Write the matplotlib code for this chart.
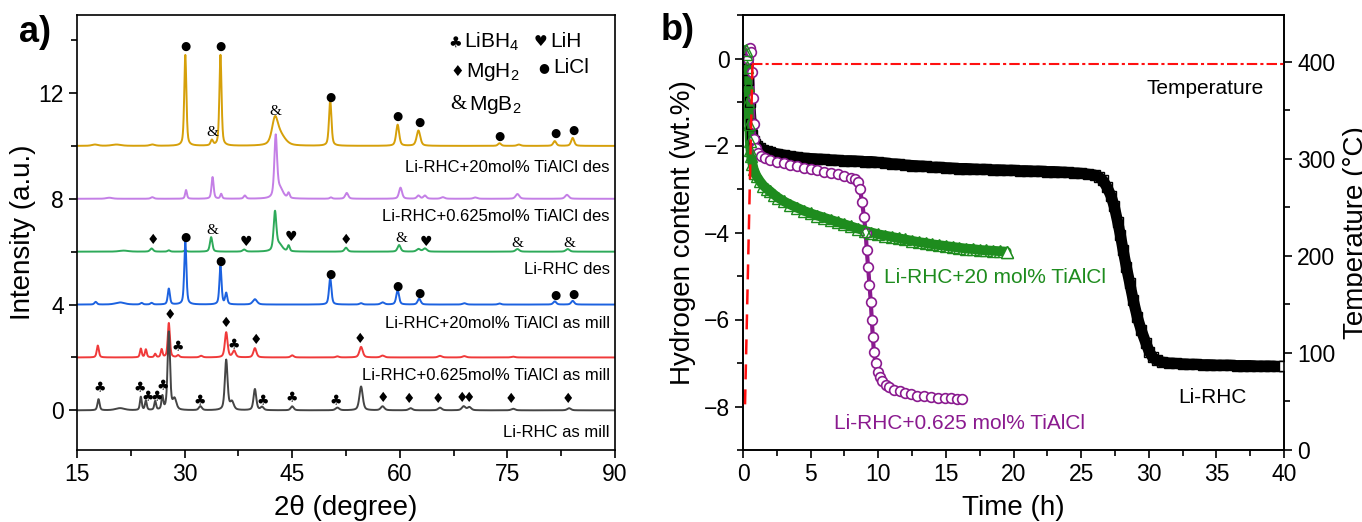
import numpy as np
import matplotlib
matplotlib.use("Agg")
import matplotlib.pyplot as plt
from matplotlib.ticker import MultipleLocator

plt.rcParams['font.family'] = ['Liberation Sans', 'DejaVu Sans']
plt.rcParams['mathtext.fontset'] = 'custom'
plt.rcParams['mathtext.rm'] = 'Liberation Sans'
plt.rcParams['mathtext.it'] = 'Liberation Sans:italic'

# ---------------- Panel a data: XRD peaks (position, height, FWHM) ----------------
xrd_names = ["Li-RHC+20mol% TiAlCl des", "Li-RHC+0.625mol% TiAlCl des", "Li-RHC des",
             "Li-RHC+20mol% TiAlCl as mill", "Li-RHC+0.625mol% TiAlCl as mill", "Li-RHC as mill"]
xrd_offsets = [10, 8, 6, 4, 2, 0]
xrd_colors = ["#D6A00A", "#C47FE6", "#2EAA5A", "#1C62E0", "#F03A3A", "#454545"]
xrd_label_y = [9.2, 7.34, 5.33, 3.3, 1.33, -0.82]

gold_pos = [17.5, 20.5, 25.5, 30.1, 33.8, 35.0, 42.6, 43.4, 50.3, 59.7, 62.6, 73.9, 76.6, 81.6, 84.1]
gold_h = [0.05, 0.05, 0.05, 3.44, 0.2, 3.44, 0.95, 0.35, 1.73, 0.8, 0.58, 0.1, 0.05, 0.18, 0.3]
gold_w = [1.0, 1.5, 0.8, 0.35, 0.4, 0.35, 1.0, 1.6, 0.4, 0.5, 0.6, 0.5, 0.6, 0.5, 0.5]

purple_pos = [19.5, 25.5, 30.2, 33.9, 35.1, 38.4, 42.7, 43.3, 44.5, 50.4, 52.6, 60.1, 62.6, 63.5, 66.0, 70.5, 76.4, 83.3]
purple_h = [0.04, 0.06, 0.33, 0.82, 0.18, 0.12, 2.3, 0.35, 0.2, 0.05, 0.22, 0.42, 0.12, 0.12, 0.06, 0.05, 0.18, 0.15]
purple_w = [1.0, 0.5, 0.3, 0.35, 0.3, 0.4, 0.45, 1.0, 0.35, 0.4, 0.5, 0.5, 0.5, 0.5, 0.6, 0.6, 0.6, 0.6]

green_pos = [21.5, 25.4, 27.8, 30.1, 33.7, 38.3, 42.6, 43.2, 44.5, 52.5, 59.9, 62.6, 63.5, 76.4, 83.4]
green_h = [0.04, 0.12, 0.05, 0.05, 0.55, 0.08, 1.45, 0.25, 0.22, 0.15, 0.25, 0.1, 0.12, 0.1, 0.1]
green_w = [1.5, 0.5, 0.4, 0.4, 0.4, 0.5, 0.45, 1.0, 0.35, 0.5, 0.5, 0.6, 0.6, 0.6, 0.6]

blue_pos = [17.6, 21.0, 24.0, 25.4, 27.8, 30.1, 35.0, 35.8, 39.8, 50.3, 54.6, 57.6, 59.7, 62.7, 69.0, 73.9, 81.6, 84.1]
blue_h = [0.1, 0.08, 0.06, 0.06, 0.6, 2.4, 1.45, 0.42, 0.2, 1.0, 0.05, 0.08, 0.55, 0.22, 0.05, 0.04, 0.12, 0.14]
blue_w = [0.4, 1.5, 0.4, 0.4, 0.35, 0.35, 0.35, 0.35, 0.7, 0.4, 0.5, 0.6, 0.45, 0.5, 0.6, 0.5, 0.5, 0.5]

red_pos = [17.9, 23.9, 24.6, 25.9, 26.8, 27.8, 29.1, 32.3, 35.8, 36.9, 39.8, 45.0, 51.3, 54.6, 57.6, 65.6, 69.0, 75.8]
red_h = [0.45, 0.33, 0.3, 0.13, 0.3, 1.3, 0.08, 0.06, 0.95, 0.25, 0.35, 0.08, 0.04, 0.4, 0.07, 0.06, 0.05, 0.03]
red_w = [0.35, 0.3, 0.3, 0.3, 0.3, 0.35, 0.4, 0.5, 0.45, 0.5, 0.5, 0.5, 0.5, 0.55, 0.6, 0.6, 0.6, 0.6]

gray_pos = [18.0, 21.0, 23.9, 24.6, 25.9, 26.9, 27.8, 28.6, 32.2, 35.8, 36.6, 39.8, 40.8, 45.0, 51.3, 54.6,
            57.6, 61.5, 65.6, 68.9, 69.7, 75.8, 83.6]
gray_h = [0.42, 0.08, 0.5, 0.35, 0.33, 0.5, 2.95, 0.4, 0.15, 1.9, 0.3, 0.8, 0.12, 0.15, 0.1, 0.9,
          0.15, 0.08, 0.1, 0.15, 0.12, 0.06, 0.08]
gray_w = [0.35, 1.5, 0.3, 0.3, 0.3, 0.3, 0.4, 0.6, 0.5, 0.45, 0.6, 0.45, 0.5, 0.5, 0.6, 0.55,
          0.6, 0.6, 0.6, 0.6, 0.6, 0.6, 0.6]

xrd_peaks = [(gold_pos, gold_h, gold_w), (purple_pos, purple_h, purple_w), (green_pos, green_h, green_w),
             (blue_pos, blue_h, blue_w), (red_pos, red_h, red_w), (gray_pos, gray_h, gray_w)]

# phase markers (2theta, intensity)
clubs = [(18.1, 0.85), (23.8, 0.85), (24.8, 0.5), (26.1, 0.5), (27.0, 0.9), (29.1, 2.38), (32.1, 0.33),
         (36.8, 2.45), (40.9, 0.33), (45.0, 0.45), (51.0, 0.36)]
diamonds = [(25.6, 6.45), (52.5, 6.45), (28.0, 3.6), (35.7, 3.3), (39.9, 2.65), (54.5, 2.68), (57.7, 0.45),
            (61.3, 0.42), (65.3, 0.42), (68.7, 0.45), (69.7, 0.45), (75.5, 0.42), (83.5, 0.42)]
hearts = [(38.5, 6.37), (44.8, 6.55), (63.6, 6.35)]
dots = [(30.1, 13.75), (35.0, 13.75), (50.4, 11.85), (59.7, 11.1), (62.7, 10.9), (73.9, 10.35),
        (81.7, 10.48), (84.2, 10.58), (30.1, 6.55), (35.0, 5.65), (50.3, 5.15), (59.7, 4.7),
        (62.7, 4.42), (81.7, 4.35), (84.2, 4.38)]
amps = [(33.8, 10.5), (42.6, 11.3), (33.8, 6.8), (60.2, 6.5), (76.4, 6.3), (83.6, 6.3)]

# ---------------- Panel b data ----------------
rhc_t = [0.3, 0.4, 0.5, 0.6, 0.7, 0.8, 0.9, 1.0, 1.25, 1.5, 1.75, 2.0, 2.5, 3.0, 3.5, 4.0, 4.5, 5.0, 5.5,
         6.0, 6.5, 7.0, 7.5, 8.0, 8.5, 9.0, 9.5, 10.0, 10.5, 11.0, 11.5, 12.0, 12.5, 13.0, 13.5, 14.0,
         14.5, 15.0, 15.5, 16.0, 16.5, 17.0, 17.5, 18.0, 18.5, 19.0, 19.5, 20.0, 20.5, 21.0, 21.5, 22.0,
         22.5, 23.0, 23.5, 24.0, 24.5, 25.0, 25.5, 26.0, 26.3, 26.6, 26.9, 27.2, 27.45, 27.7, 27.9, 28.1,
         28.35, 28.6, 28.85, 29.15, 29.45, 29.8, 30.05, 30.3, 30.6, 31.0, 31.5, 32.0, 32.5, 33.0, 33.5,
         34.0, 34.5, 35.0, 35.5, 36.0, 36.5, 37.0, 37.5, 38.0, 38.5, 39.0, 39.5, 40.0]
rhc_v = [0.0, -0.5, -1.0, -1.5, -1.75, -1.9, -1.97, -2.0, -2.06, -2.1, -2.13, -2.16, -2.19, -2.22, -2.25,
         -2.27, -2.29, -2.3, -2.31, -2.32, -2.33, -2.34, -2.35, -2.35, -2.36, -2.37, -2.37, -2.39, -2.4,
         -2.42, -2.43, -2.45, -2.46, -2.47, -2.48, -2.5, -2.5, -2.51, -2.52, -2.53, -2.53, -2.54, -2.55,
         -2.55, -2.56, -2.56, -2.57, -2.57, -2.58, -2.58, -2.59, -2.59, -2.6, -2.6, -2.61, -2.62, -2.63,
         -2.64, -2.66, -2.68, -2.72, -2.8, -2.95, -3.15, -3.4, -3.75, -4.05, -4.4, -4.8, -5.17, -5.55,
         -5.94, -6.25, -6.55, -6.75, -6.87, -6.94, -6.98, -7.0, -7.01, -7.02, -7.03, -7.03, -7.04, -7.04,
         -7.05, -7.05, -7.05, -7.06, -7.06, -7.06, -7.07, -7.07, -7.07, -7.08, -7.08]

lo_t = [0.35, 0.45, 0.55, 0.62, 0.68, 0.73, 0.78, 0.85, 0.95, 1.1, 1.3, 1.6, 2.0, 2.5, 3.0, 3.5, 4.0, 4.5,
        5.0, 5.5, 6.0, 6.5, 7.0, 7.5, 8.0, 8.3, 8.5, 8.65, 8.8, 8.95, 9.07, 9.15, 9.25, 9.35, 9.45, 9.52,
        9.6, 9.68, 9.8, 9.95, 10.1, 10.3, 10.55, 10.8, 11.2, 11.6, 12.0, 12.4, 12.9, 13.4, 13.9, 14.4,
        14.9, 15.4, 15.8, 16.2]
lo_v = [0.0, 0.2, 0.25, 0.15, -0.3, -0.9, -1.5, -1.85, -2.05, -2.18, -2.25, -2.29, -2.33, -2.37, -2.41,
        -2.45, -2.48, -2.51, -2.54, -2.57, -2.6, -2.63, -2.66, -2.7, -2.74, -2.78, -2.85, -3.0, -3.3,
        -3.65, -4.0, -4.4, -4.8, -5.2, -5.6, -6.0, -6.4, -6.75, -7.0, -7.2, -7.32, -7.42, -7.5, -7.56,
        -7.61, -7.65, -7.69, -7.72, -7.75, -7.77, -7.79, -7.8, -7.81, -7.81, -7.82, -7.82]

hi_t = [0.2, 0.25, 0.3, 0.35, 0.4, 0.45, 0.5, 0.55, 0.6, 0.7, 0.8, 0.9, 1.0, 1.25, 1.5, 1.75, 2.0, 2.3,
        2.6, 3.0, 3.5, 4.0, 4.5, 5.0, 5.5, 6.0, 6.5, 7.0, 7.5, 8.0, 8.5, 9.0, 9.5, 10.0, 10.5, 11.0,
        11.5, 12.0, 12.5, 13.0, 13.5, 14.0, 14.5, 15.0, 15.5, 16.0, 16.5, 17.0, 17.5, 18.0, 18.5, 19.0,
        19.5]
hi_v = [0.2, 0.1, -0.2, -0.6, -1.0, -1.5, -1.9, -2.1, -2.25, -2.42, -2.55, -2.63, -2.7, -2.82, -2.92,
        -2.99, -3.05, -3.13, -3.2, -3.28, -3.36, -3.43, -3.5, -3.56, -3.61, -3.66, -3.71, -3.76, -3.81,
        -3.86, -3.91, -3.96, -4.0, -4.04, -4.07, -4.1, -4.13, -4.16, -4.19, -4.22, -4.24, -4.27, -4.29,
        -4.31, -4.33, -4.35, -4.37, -4.38, -4.4, -4.41, -4.42, -4.43, -4.44]

temp_ramp_t = [0.15, 0.7]
temp_ramp_v = [47, 398]
temp_hold_t = [0.7, 40]
temp_hold_v = [398, 398]

# ---------------- Figure ----------------
W, H = 1362.0, 522.0
fig = plt.figure(figsize=(W / 100, H / 100), dpi=100)
axa = fig.add_axes([77 / W, 1 - 450 / H, (615 - 77) / W, (450 - 15) / H])
axb = fig.add_axes([743 / W, 1 - 450 / H, (1284 - 743) / W, (450 - 15) / H])

tt = np.linspace(15, 90, 3000)


def profile(x, pos, h, w):
    y = np.zeros_like(x)
    for p, a, f in zip(pos, h, w):
        d = (x - p) / f
        y += a * (0.5 / (1 + 4 * d ** 2) + 0.5 * np.exp(-4 * np.log(2) * d ** 2))
    return y


for (pos, h, w), off, col, name, ly in zip(xrd_peaks, xrd_offsets, xrd_colors, xrd_names, xrd_label_y):
    axa.plot(tt, off + profile(tt, pos, h, w), color=col, lw=1.4)
    axa.text(89.3, ly, name, ha='right', va='center', fontsize=12)

sym_kw = dict(ha='center', va='center', color='black', family=['DejaVu Sans'])
for x, y in clubs:
    axa.text(x, y, "\u2663", fontsize=10, **sym_kw)
for x, y in diamonds:
    axa.text(x, y, "\u2666", fontsize=10, **sym_kw)
for x, y in hearts:
    axa.text(x, y, "\u2665", fontsize=10, **sym_kw)
for x, y in dots:
    axa.text(x, y, "\u25CF", fontsize=8.5, **sym_kw)
for x, y in amps:
    axa.text(x, y, "&", fontsize=11, ha='center', va='center', family=['Liberation Serif'])

# legend of symbols
axa.text(67.7, 13.93, "\u2663", fontsize=11, **sym_kw)
axa.text(68.9, 13.93, "LiBH$_4$", fontsize=15, va='center')
axa.text(79.6, 13.93, "\u2665", fontsize=11, **sym_kw)
axa.text(81.0, 13.93, "LiH", fontsize=15, va='center')
axa.text(68.0, 12.8, "\u2666", fontsize=11, **sym_kw)
axa.text(69.2, 12.8, "MgH$_2$", fontsize=15, va='center')
axa.text(80.0, 12.95, "\u25CF", fontsize=9, **sym_kw)
axa.text(81.4, 12.95, "LiCl", fontsize=15, va='center')
axa.text(68.2, 11.55, "&", fontsize=15, ha='center', va='center', family=['Liberation Serif'])
axa.text(69.7, 11.55, "MgB$_2$", fontsize=15, va='center')

axa.set_xlim(15, 90)
axa.set_ylim(-1.5, 14.95)
axa.xaxis.set_major_locator(MultipleLocator(15))
axa.xaxis.set_minor_locator(MultipleLocator(7.5))
axa.yaxis.set_major_locator(MultipleLocator(4))
axa.yaxis.set_minor_locator(MultipleLocator(2))
axa.set_xlabel("2\u03b8 (degree)", fontsize=20)
axa.set_ylabel("Intensity (a.u.)", fontsize=20)
axa.yaxis.set_label_coords((36 - 77) / 538, 0.5)
axa.xaxis.set_label_coords(0.5, -0.104)

# panel b
purple = '#8A1A8F'
green = '#1E8C1E'
axb.plot(rhc_t, rhc_v, color='black', lw=8, solid_capstyle='round', zorder=2)
axb.plot(rhc_t, rhc_v, ls='none', marker='s', ms=6.5, mfc='none', mec='black', mew=1.0, zorder=3)
axb.plot(rhc_t[-1:], rhc_v[-1:], ls='none', marker='s', ms=6.5, mfc='white', mec='black', mew=1.0, zorder=3)
axb.plot(lo_t, lo_v, color=purple, lw=3, zorder=2)
axb.plot(lo_t, lo_v, ls='none', marker='o', ms=7, mfc='white', mec=purple, mew=1.2, zorder=3)
axb.plot(hi_t, hi_v, color=green, lw=7, solid_capstyle='round', zorder=2)
axb.plot(hi_t, hi_v, ls='none', marker='^', ms=8, mfc='none', mec=green, mew=1.0, zorder=3)
axb.plot(hi_t[-1:], hi_v[-1:], ls='none', marker='^', ms=8, mfc='white', mec=green, mew=1.0, zorder=3)

axt = axb.twinx()
axt.plot(temp_ramp_t, temp_ramp_v, color='#FF1010', lw=1.8, ls=(0, (6, 4)), zorder=4)
axt.plot(temp_hold_t, temp_hold_v, color='#FF1010', lw=1.5, ls=(0, (5, 1.5, 1.5, 1.5)), zorder=4)
axt.set_ylim(0, 448)
axt.yaxis.set_major_locator(MultipleLocator(100))
axt.yaxis.set_minor_locator(MultipleLocator(50))
axt.set_ylabel("Temperature (\u00b0C)", fontsize=20)
axt.yaxis.set_label_coords((1343 - 743) / 541, 0.5)

axb.set_xlim(0, 40)
axb.set_ylim(-9, 1)
axb.xaxis.set_major_locator(MultipleLocator(5))
axb.xaxis.set_minor_locator(MultipleLocator(2.5))
axb.yaxis.set_major_locator(MultipleLocator(2))
axb.yaxis.set_minor_locator(MultipleLocator(1))
axb.set_xlabel("Time (h)", fontsize=20)
axb.set_ylabel("Hydrogen content (wt.%)", fontsize=20)
axb.yaxis.set_label_coords((696 - 743) / 541, 0.5)
axb.xaxis.set_label_coords(0.5, -0.104)

axb.text(34.2, -0.69, "Temperature", fontsize=15, ha='center', va='center')
axb.text(18.6, -5.03, "Li-RHC+20 mol% TiAlCl", fontsize=15, ha='center', va='center', color=green)
axb.text(16.0, -8.39, "Li-RHC+0.625 mol% TiAlCl", fontsize=15, ha='center', va='center', color=purple)
axb.text(34.7, -7.8, "Li-RHC", fontsize=15, ha='center', va='center')

for ax in (axa, axb, axt):
    ax.tick_params(which='both', direction='out', labelsize=16.5, width=1.2)
    ax.tick_params(which='major', length=6)
    ax.tick_params(which='minor', length=4)
    for s in ax.spines.values():
        s.set_linewidth(1.2)

fig.text(35 / W, 1 - 33 / H, "a)", fontsize=26, fontweight='bold', ha='center', va='center')
fig.text(678 / W, 1 - 30 / H, "b)", fontsize=26, fontweight='bold', ha='center', va='center')

fig.savefig("out.png", dpi=100)
